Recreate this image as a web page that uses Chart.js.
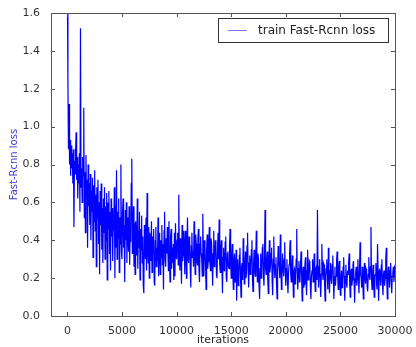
<!DOCTYPE html>
<html lang="en">
<head>
<meta charset="UTF-8">
<title>train Fast-Rcnn loss</title>
<script src="https://cdn.jsdelivr.net/npm/chart.js"></script>
<style>
  html, body { margin: 0; padding: 0; background: #fff; }
  #wrap { width: 416px; height: 347px; }
</style>
</head>
<body>
<div id="wrap"><canvas id="loss-chart" width="416" height="347"></canvas></div>
<script>
// one loss value every 50 iterations
const iterStep = 50;
const lossA = [ // 0 - 4950
  1.70, 1.23, 0.88, 1.12, 0.80, 0.93, 0.74, 0.90, 0.78, 0.86, 0.70, 0.88, 0.47, 0.82, 0.75, 0.87,
  0.97, 0.72, 0.84, 0.62, 0.80, 0.70, 0.86, 0.55, 1.52, 0.68, 0.78, 0.60, 0.84, 0.74, 1.10, 0.52,
  0.76, 0.44, 0.85, 0.63, 0.72, 0.36, 0.80, 0.58, 0.70, 0.48, 0.75, 0.40, 0.66, 0.55, 0.73, 0.31, 0.69, 0.50,
  0.77, 0.45, 0.64, 0.26, 0.68, 0.52, 0.72, 0.38, 0.60, 0.22, 0.66, 0.48, 0.70, 0.35, 0.57, 0.28, 0.62, 0.44, 0.68, 0.30,
  0.58, 0.40, 0.65, 0.19, 0.60, 0.46, 0.66, 0.33, 0.55, 0.24, 0.62, 0.42, 0.57, 0.29, 0.50, 0.45, 0.68, 0.20, 0.58, 0.36,
  0.77, 0.30, 0.55, 0.41, 0.62, 0.23, 0.52, 0.38, 0.80, 0.34
];
const lossB = [ // 5000 - 9950
  0.30, 0.55, 0.62, 0.36, 0.48, 0.18, 0.56, 0.40, 0.60, 0.28, 0.52, 0.44, 0.34, 0.58, 0.27, 0.46, 0.39, 0.70, 0.83, 0.33,
  0.38, 0.58, 0.26, 0.49, 0.22, 0.50, 0.41, 0.32, 0.62, 0.25, 0.45, 0.36, 0.55, 0.19, 0.46, 0.35, 0.53, 0.28, 0.42, 0.16,
  0.12, 0.48, 0.37, 0.30, 0.52, 0.24, 0.65, 0.33, 0.28, 0.47, 0.20, 0.44, 0.38, 0.29, 0.50, 0.23, 0.42, 0.33, 0.46, 0.18,
  0.16, 0.40, 0.47, 0.26, 0.36, 0.29, 0.52, 0.21, 0.44, 0.34, 0.22, 0.40, 0.31, 0.48, 0.27, 0.38, 0.14, 0.45, 0.55, 0.30,
  0.26, 0.41, 0.33, 0.47, 0.35, 0.24, 0.50, 0.29, 0.18, 0.42, 0.46, 0.25, 0.36, 0.28, 0.38, 0.19, 0.44, 0.21, 0.49, 0.32
];
const lossC = [ // 10000 - 14950
  0.30, 0.40, 0.44, 0.27, 0.64, 0.35, 0.24, 0.41, 0.33, 0.17, 0.48, 0.29, 0.32, 0.45, 0.38, 0.22, 0.45, 0.36, 0.20, 0.39,
  0.52, 0.30, 0.28, 0.42, 0.40, 0.25, 0.15, 0.37, 0.44, 0.31, 0.34, 0.26, 0.50, 0.35, 0.22, 0.43, 0.38, 0.29, 0.27, 0.41,
  0.46, 0.24, 0.18, 0.38, 0.42, 0.33, 0.30, 0.21, 0.54, 0.34, 0.21, 0.40, 0.36, 0.27, 0.14, 0.35, 0.43, 0.25, 0.29, 0.39,
  0.47, 0.28, 0.24, 0.41, 0.39, 0.30, 0.16, 0.33, 0.45, 0.26, 0.31, 0.40, 0.37, 0.22, 0.20, 0.36, 0.44, 0.30, 0.51, 0.27,
  0.23, 0.37, 0.40, 0.28, 0.12, 0.31, 0.36, 0.24, 0.27, 0.39, 0.42, 0.20, 0.18, 0.33, 0.34, 0.26, 0.25, 0.38, 0.46, 0.29
];
const lossD = [ // 15000 - 19950
  0.20, 0.31, 0.38, 0.22, 0.14, 0.29, 0.33, 0.18, 0.22, 0.35, 0.08, 0.24, 0.30, 0.16, 0.19, 0.32, 0.36, 0.21, 0.10, 0.26,
  0.28, 0.19, 0.41, 0.30, 0.17, 0.27, 0.34, 0.20, 0.23, 0.37, 0.44, 0.25, 0.15, 0.28, 0.32, 0.22, 0.26, 0.35, 0.40, 0.19,
  0.13, 0.28, 0.35, 0.24, 0.21, 0.31, 0.45, 0.27, 0.18, 0.33, 0.30, 0.16, 0.09, 0.25, 0.33, 0.20, 0.24, 0.36, 0.38, 0.22,
  0.16, 0.30, 0.56, 0.25, 0.22, 0.29, 0.34, 0.19, 0.12, 0.28, 0.40, 0.23, 0.27, 0.33, 0.36, 0.18, 0.11, 0.30, 0.42, 0.26,
  0.20, 0.27, 0.31, 0.17, 0.09, 0.24, 0.37, 0.29, 0.25, 0.20, 0.43, 0.28, 0.14, 0.22, 0.33, 0.26, 0.21, 0.30, 0.39, 0.23
];
const lossE = [ // 20000 - 24950
  0.16, 0.25, 0.30, 0.19, 0.12, 0.23, 0.27, 0.33, 0.40, 0.22, 0.18, 0.26, 0.32, 0.20, 0.10, 0.24, 0.25, 0.17, 0.21, 0.30,
  0.46, 0.22, 0.14, 0.25, 0.29, 0.18, 0.19, 0.28, 0.34, 0.21, 0.08, 0.23, 0.26, 0.15, 0.17, 0.27, 0.31, 0.20, 0.11, 0.24,
  0.35, 0.19, 0.22, 0.29, 0.28, 0.16, 0.09, 0.21, 0.24, 0.30, 0.18, 0.23, 0.33, 0.20, 0.13, 0.25, 0.26, 0.19, 0.56, 0.24,
  0.15, 0.26, 0.30, 0.18, 0.10, 0.22, 0.38, 0.25, 0.19, 0.28, 0.27, 0.17, 0.08, 0.21, 0.25, 0.30, 0.20, 0.14, 0.36, 0.23,
  0.12, 0.24, 0.28, 0.19, 0.17, 0.27, 0.32, 0.21, 0.09, 0.20, 0.26, 0.16, 0.21, 0.29, 0.34, 0.22, 0.14, 0.25, 0.29, 0.18
];
const lossF = [ // 25000 - 30000
  0.11, 0.20, 0.24, 0.15, 0.18, 0.26, 0.31, 0.19, 0.08, 0.21, 0.27, 0.17, 0.15, 0.24, 0.22, 0.28, 0.33, 0.18, 0.10, 0.23,
  0.25, 0.16, 0.19, 0.27, 0.29, 0.20, 0.07, 0.18, 0.23, 0.26, 0.16, 0.21, 0.30, 0.19, 0.12, 0.24, 0.39, 0.22, 0.20, 0.15,
  0.26, 0.18, 0.09, 0.22, 0.28, 0.20, 0.17, 0.25, 0.24, 0.15, 0.13, 0.22, 0.31, 0.21, 0.19, 0.26, 0.47, 0.20, 0.14, 0.23,
  0.27, 0.17, 0.10, 0.21, 0.22, 0.28, 0.18, 0.14, 0.38, 0.24, 0.08, 0.19, 0.25, 0.21, 0.16, 0.27, 0.30, 0.17, 0.11, 0.22,
  0.24, 0.16, 0.20, 0.29, 0.36, 0.18, 0.09, 0.21, 0.26, 0.20, 0.15, 0.24, 0.28, 0.19, 0.12, 0.21, 0.23, 0.26, 0.18, 0.22,
  0.27
];
const lossValues = lossA.concat(lossB, lossC, lossD, lossE, lossF);
const iterations = lossValues.map((v, i) => i * iterStep);

const xTicks = [0, 5000, 10000, 15000, 20000, 25000, 30000];
const yTicks = [0.0, 0.2, 0.4, 0.6, 0.8, 1.0, 1.2, 1.4, 1.6];
const seriesLabel = 'train Fast-Rcnn loss';

const lineBlue = '#0000ff';
const frameGray = '#555555';
const textGray = '#333333';
const fontFamily = '"DejaVu Sans", "Liberation Sans", sans-serif';

// matplotlib style: inward ticks on all four sides, frame box, legend box
const framePlugin = {
    id: 'frame',
    afterDatasetsDraw(chart) {
        const ctx = chart.ctx;
        const a = chart.chartArea;
        const xs = chart.scales.x;
        const ys = chart.scales.y;
        ctx.save();
        ctx.strokeStyle = frameGray;
        ctx.lineWidth = 1;
        ctx.beginPath();
        xTicks.forEach(v => {
            const px = Math.round(xs.getPixelForValue(v)) + 0.5;
            ctx.moveTo(px, a.bottom); ctx.lineTo(px, a.bottom - 4);
            ctx.moveTo(px, a.top); ctx.lineTo(px, a.top + 4);
        });
        yTicks.forEach(v => {
            const py = Math.round(ys.getPixelForValue(v)) + 0.5;
            ctx.moveTo(a.left, py); ctx.lineTo(a.left + 4, py);
            ctx.moveTo(a.right, py); ctx.lineTo(a.right - 4, py);
        });
        ctx.stroke();
        ctx.strokeRect(Math.round(a.left) + 0.5, Math.round(a.top) + 0.5,
            Math.round(a.right - a.left), Math.round(a.bottom - a.top));

        // legend
        const lx = 218.5, ly = 18.5, lw = 170, lh = 24;
        ctx.fillStyle = '#ffffff';
        ctx.fillRect(lx, ly, lw, lh);
        ctx.strokeStyle = '#333333';
        ctx.strokeRect(lx, ly, lw, lh);
        ctx.strokeStyle = '#7777ee';
        ctx.beginPath();
        ctx.moveTo(228, 30.5); ctx.lineTo(247, 30.5);
        ctx.stroke();
        ctx.fillStyle = '#222222';
        ctx.font = '12px ' + fontFamily;
        ctx.textBaseline = 'middle';
        ctx.textAlign = 'left';
        ctx.fillText(chart.data.datasets[0].label, 258, 31, 127);
        ctx.restore();
    }
};

new Chart(document.getElementById('loss-chart'), {
    type: 'line',
    data: {
        datasets: [{
            label: seriesLabel,
            data: iterations.map((it, i) => ({ x: it, y: lossValues[i] })),
            borderColor: lineBlue,
            borderWidth: 1.2,
            pointRadius: 0,
            tension: 0,
            fill: false
        }]
    },
    options: {
        responsive: false,
        animation: false,
        layout: { padding: { left: 0, right: 21, top: 13, bottom: 0 } },
        plugins: {
            legend: { display: false },
            tooltip: { enabled: false }
        },
        scales: {
            x: {
                type: 'linear',
                min: -1500,
                max: 30000,
                afterBuildTicks: s => { s.ticks = xTicks.map(v => ({ value: v })); },
                afterFit: s => { s.height = 31; },
                grid: { display: false },
                border: { display: false },
                ticks: {
                    color: textGray,
                    padding: 1,
                    maxRotation: 0,
                    font: { family: fontFamily, size: 11 },
                    callback: v => String(v)
                },
                title: {
                    display: true,
                    text: 'iterations',
                    color: '#222222',
                    padding: { top: 0, bottom: 0 },
                    font: { family: fontFamily, size: 11 }
                }
            },
            y: {
                min: 0,
                max: 1.6,
                afterBuildTicks: s => { s.ticks = yTicks.map(v => ({ value: v })); },
                afterFit: s => { s.width = 51; },
                grid: { display: false },
                border: { display: false },
                ticks: {
                    color: textGray,
                    padding: 3,
                    font: { family: fontFamily, size: 11 },
                    callback: v => Number(v).toFixed(1)
                },
                title: {
                    display: true,
                    text: 'Fast-Rcnn loss',
                    color: '#3a3ad0',
                    padding: { top: 8, bottom: 0 },
                    font: { family: fontFamily, size: 10 }
                }
            }
        }
    },
    plugins: [framePlugin]
});
</script>
</body>
</html>
